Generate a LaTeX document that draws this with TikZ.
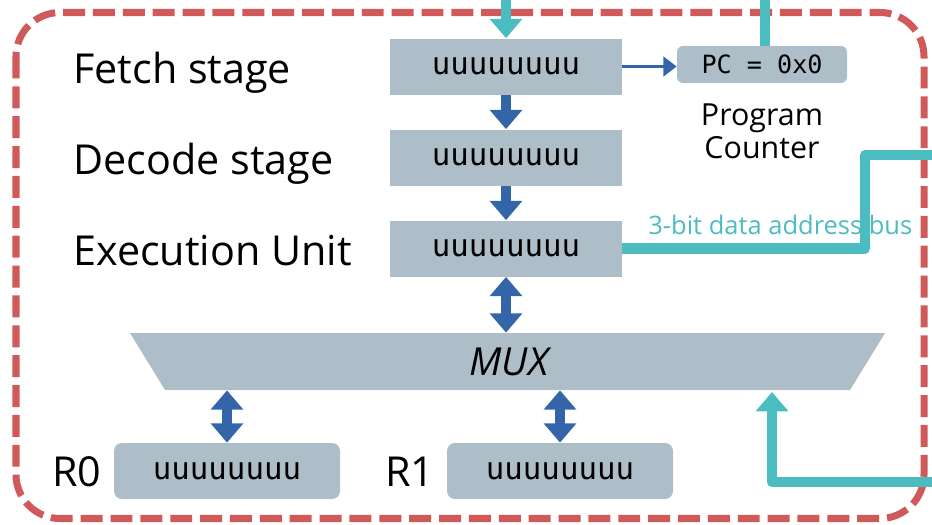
\documentclass[tikz,border=0pt]{standalone}
\usepackage{fontspec}
\setmainfont{Open Sans}
\setmonofont{DejaVu Sans Mono}
\usetikzlibrary{arrows.meta}
\definecolor{boxgray}{HTML}{AEBEC9}
\definecolor{cpured}{HTML}{D05A5A}
\definecolor{busteal}{HTML}{4BBCC0}
\definecolor{pipeblue}{HTML}{3465A8}
\newcommand{\pxu}{0.02cm}

\begin{document}
\begin{tikzpicture}[x=0.02cm,y=-0.02cm,
    stage/.style={fill=boxgray,minimum width=232*\pxu,minimum height=56*\pxu,inner sep=0pt,
      font=\ttfamily\fontsize{17.5}{20}\selectfont},
    reg/.style={stage,rounded corners=8*\pxu,minimum width=226*\pxu},
    stagename/.style={anchor=base west,inner sep=0pt,font=\fontsize{23.5}{27}\selectfont},
    flow/.style={pipeblue,line width=5.7pt,-{Triangle[width=18pt,length=11pt]}},
    both/.style={pipeblue,line width=6pt,{Triangle[width=18pt,length=11pt]}-{Triangle[width=18pt,length=11pt]}},
    bus/.style={busteal,line width=5.7pt,line join=round}]
  \useasboundingbox (0,0) rectangle (932,524);
  % outer border
  \draw[cpured,line width=4pt,dash pattern=on 12.5pt off 4.5pt,rounded corners=0.88cm]
    (16,12.5) rectangle (924,518.5);
  % pipeline
  \node (fetch) [stage] at (506,66.5) {uuuuuuuu};
  \node (decode) [stage] at (506,157.5) {uuuuuuuu};
  \node (exec) [stage] at (506,248.5) {uuuuuuuu};
  \node (fetchlbl) [stagename] at (73,83) {Fetch stage};
  \node (decodelbl) [stagename] at (73,174) {Decode stage};
  \node (execlbl) [stagename] at (73,265) {Execution Unit};
  % program counter
  \node (pc) [fill=boxgray,rounded corners=6*\pxu,minimum width=170*\pxu,minimum height=37*\pxu,
    inner sep=0pt,font=\ttfamily\fontsize{14.3}{17}\selectfont] at (762,64.5) {PC = 0x0};
  \node (pclbl) [align=center,font=\fontsize{17.3}{19}\selectfont] at (762,131) {Program\\Counter};
  % mux
  \fill[boxgray] (130,333) -- (885,333) -- (850,390) -- (165,390) -- cycle;
  \node (mux) [minimum width=685*\pxu,minimum height=57*\pxu,inner sep=0pt,
    font=\itshape\fontsize{22}{25}\selectfont] at (509,361.5) {MUX};
  % registers
  \node (r0) [reg] at (227,471) {uuuuuuuu};
  \node (r1) [reg] at (560,471) {uuuuuuuu};
  \node (r0lbl) [stagename] at (52,486) {R0};
  \node (r1lbl) [stagename] at (385,486) {R1};
  % connections
  \draw[flow] (fetch) -- (decode);
  \draw[flow] (decode) -- (exec);
  \draw[both] (exec.south) -- (exec.south |- mux.north);
  \draw[both] (r0.north |- mux.south) -- (r0.north);
  \draw[both] (r1.north |- mux.south) -- (r1.north);
  \draw[pipeblue,line width=1.7pt,-{Triangle[width=11pt,length=7.5pt]}] (fetch.east) -- (fetch.east -| pc.west);
  % buses
  \coordinate (fetchin) at (506,0);
  \coordinate (pctop) at (765,0);
  \coordinate (busbend) at (865,155);
  \coordinate (busout) at (940,155);
  \coordinate (busin) at (940,482);
  \coordinate (muxin) at (772,392);
  \draw[bus,-{Triangle[width=18pt,length=11pt]}] (fetchin) -- (fetch.north);
  \draw[bus] (pctop) -- (pctop |- pc.north);
  \draw[bus] (exec.east) -| (busbend) -- (busout);
  \draw[bus,-{Triangle[width=18pt,length=11pt]}] (busin) -| (muxin);
  \node (buslbl) [anchor=base west,inner sep=0pt,text=busteal,font=\fontsize{14.5}{17}\selectfont]
    at (648,234) {3-bit data address bus};
\end{tikzpicture}
\end{document}
